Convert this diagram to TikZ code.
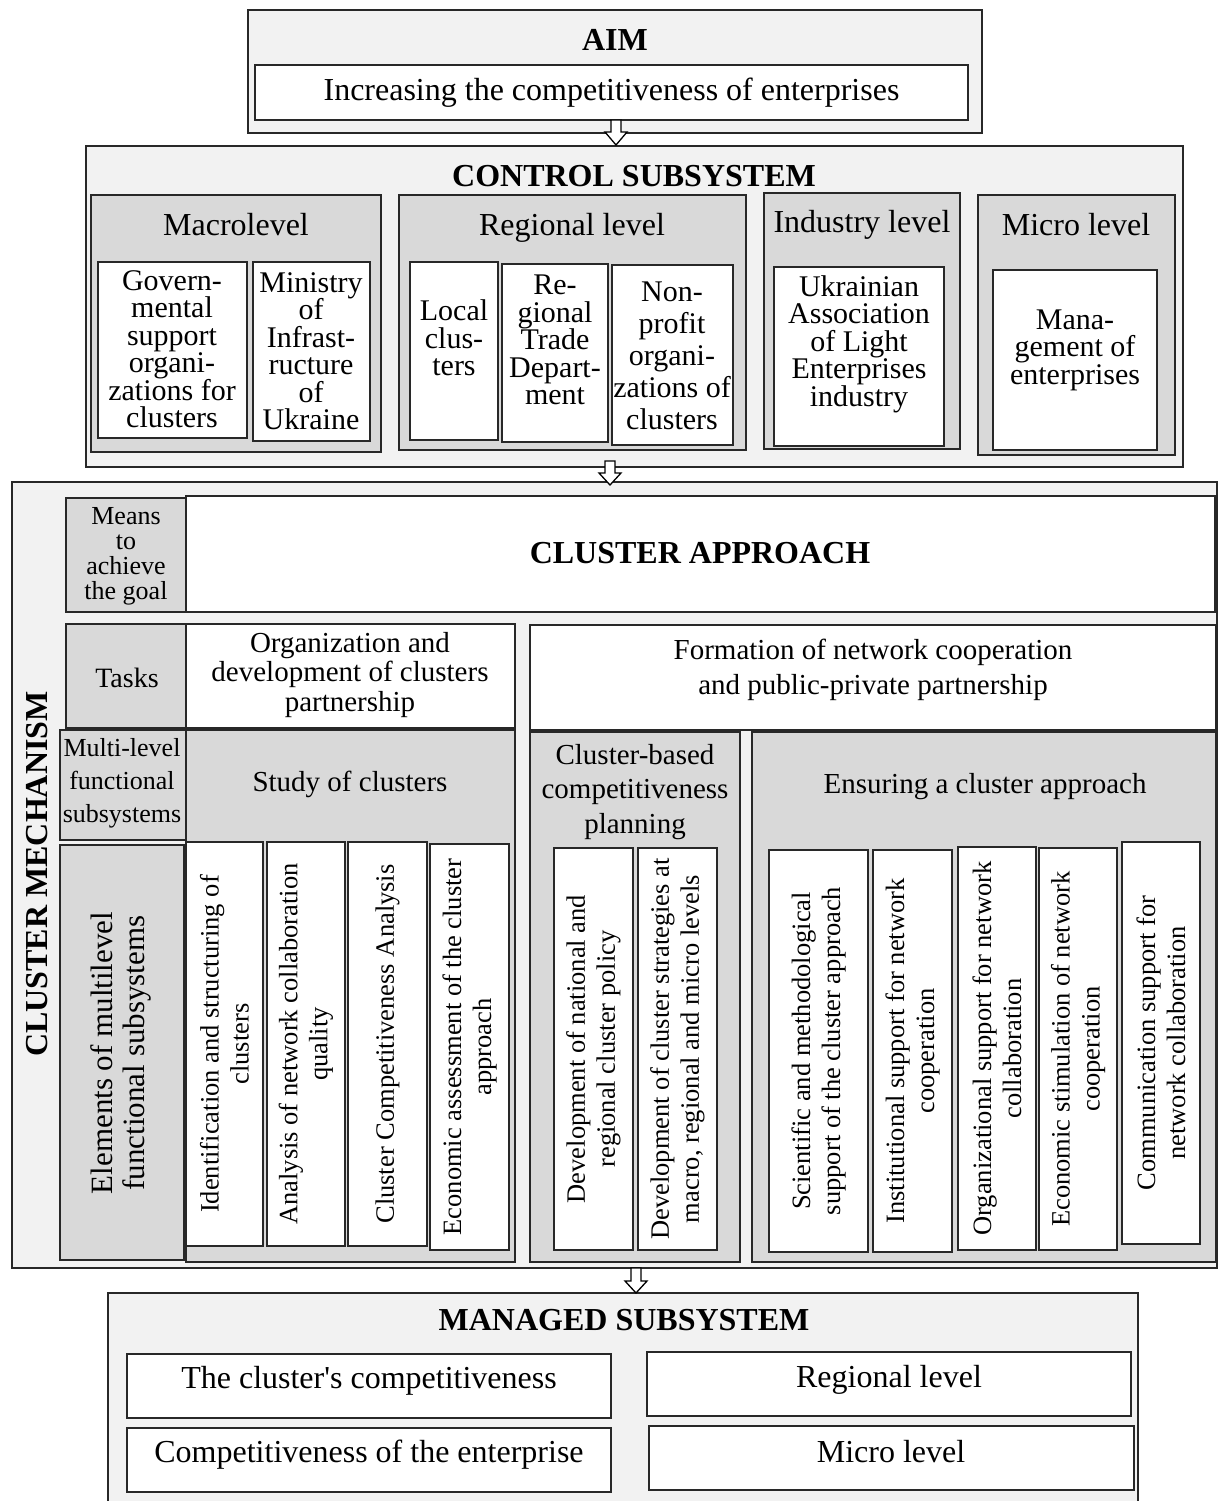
\documentclass[tikz,border=0pt]{standalone}
\usepackage{fontspec}
\setmainfont{Liberation Serif}
\definecolor{lightg}{RGB}{242,242,242}
\definecolor{midg}{RGB}{217,217,217}
\definecolor{edge}{RGB}{40,40,40}
\newcommand\mkbox[6]{\node[#6, minimum width={#4-#2}, minimum height={#5-#3}, anchor=north west] (#1) at (#2,#3) {};}
\newcommand\darr[4]{\draw[harrow] ({#1-5},#2) -- ({#1-5},#3) -- ({#1-11},#3) -- (#1,#4) -- ({#1+11},#3) -- ({#1+5},#3) -- ({#1+5},#2) -- cycle;}
\newcommand\fs[2]{\fontsize{#1}{#2}\selectfont\lineskiplimit=-100pt\relax}
\begin{document}
\begin{tikzpicture}[x=1pt,y=-1pt,
  panel/.style={draw=edge, line width=1.3pt, fill=lightg, inner sep=0pt, outer sep=0pt},
  grp/.style={panel, fill=midg},
  wbox/.style={panel, fill=white},
  harrow/.style={draw=black, line width=1.3pt, fill=white, line join=miter},
  ttl/.style={font=\fs{32}{36}\bfseries, inner sep=0pt},
  big/.style={font=\fs{32}{36}, inner sep=0pt, align=center},
  sm/.style={font=\fs{30}{27.5}, inner sep=0pt, align=center},
  smw/.style={font=\fs{30}{32}, inner sep=0pt, align=center},
  mid/.style={font=\fs{29}{29.5}, inner sep=0pt, align=center},
  midw/.style={font=\fs{29}{34.5}, inner sep=0pt, align=center},
  lab/.style={font=\fs{26}{25}, inner sep=0pt, align=center},
  labw/.style={font=\fs{26}{33}, inner sep=0pt, align=center},
  vt/.style={font=\fs{26.5}{30}, inner sep=0pt, align=center, rotate=90},
  vtb/.style={font=\fs{31}{32}, inner sep=0pt, align=center, rotate=90},
]
\useasboundingbox (0,0) rectangle (1218,1501);
\clip (0,0) rectangle (1218,1501);

% ---------- AIM ----------
\mkbox{aim}{248}{10}{982}{133}{panel}
\node[ttl] (aimt) at (615,40) {AIM};
\mkbox{aimin}{255}{65}{968}{120}{wbox}
\node[big] (aimint) at (aimin) {Increasing the competitiveness of enterprises};

% ---------- CONTROL SUBSYSTEM ----------
\mkbox{ctrl}{86}{146}{1183}{467}{panel}
\node[ttl] (ctrlt) at (634,176) {CONTROL SUBSYSTEM};

\mkbox{macro}{91}{195}{381}{452}{grp}
\node[big] (macrot) at (236,225) {Macrolevel};
\mkbox{gov}{98}{262}{247}{438}{wbox}
\node[sm] (govt) at (172,349) {Govern-\\mental\\support\\organi-\\zations for\\clusters};
\mkbox{mini}{253}{262}{370}{441}{wbox}
\node[sm] (minit) at (311,351) {Ministry\\of\\Infrast-\\ructure\\of\\Ukraine};

\mkbox{reg}{399}{195}{746}{450}{grp}
\node[big] (regt) at (572,228) {Regional level};
\mkbox{loc}{410}{262}{498}{440}{wbox}
\node[sm] (loct) at (454,338) {Local\\clus-\\ters};
\mkbox{rtd}{502}{264}{608}{442}{wbox}
\node[sm] (rtdt) at (555,340) {Re-\\gional\\Trade\\Depart-\\ment};
\mkbox{npo}{612}{265}{733}{445}{wbox}
\node[smw] (npot) at (672,356) {Non-\\profit\\organi-\\zations of\\clusters};

\mkbox{ind}{764}{193}{960}{449}{grp}
\node[big] (indt) at (862,225) {Industry level};
\mkbox{ukr}{774}{267}{944}{446}{wbox}
\node[sm] (ukrt) at (859,344) {Ukrainian\\Association\\of Light\\Enterprises\\industry};

\mkbox{mic}{978}{195}{1175}{455}{grp}
\node[big] (mict) at (1076,225) {Micro level};
\mkbox{man}{993}{270}{1157}{450}{wbox}
\node[sm] (mant) at (1075,350) {Mana-\\gement of\\enterprises};

% ---------- CLUSTER MECHANISM ----------
\mkbox{mech}{12}{482}{1217}{1268}{panel}
\node[ttl, rotate=90] (mecht) at (37,874) {CLUSTER MECHANISM};

\mkbox{means}{66}{498}{186}{612}{grp}
\node[lab] (meanst) at (126,556) {Means\\to\\achieve\\the goal};
\mkbox{appr}{186}{496}{1215}{612}{wbox}
\node[ttl] (apprt) at (700,553) {CLUSTER APPROACH};

\mkbox{tasks}{66}{624}{186}{728}{grp}
\node[font=\fs{28}{30}, inner sep=0pt] (taskst) at (127,678) {Tasks};
\mkbox{org}{186}{624}{515}{728}{wbox}
\node[mid] (orgt) at (350,675) {Organization and\\development of clusters\\partnership};
\mkbox{form}{530}{625}{1216}{730}{wbox}
\node[midw] (formt) at (873,670) {Formation of network cooperation\\and public-private partnership};

\mkbox{study}{186}{730}{515}{1262}{grp}
\node[mid] (studyt) at (350,784) {Study of clusters};
\mkbox{multi}{60}{730}{186}{840}{grp}
\node[labw] (multit) at (122,783) {Multi-level\\functional\\subsystems};
\mkbox{elem}{60}{845}{184}{1260}{grp}
\node[vtb] (elemt) at (121,1053) {Elements of multilevel\\functional subsystems};

\mkbox{sa}{186}{842}{263}{1246}{wbox}
\node[vt] (sat) at (sa) {Identification and structuring of\\clusters};
\mkbox{sb}{267}{842}{345}{1246}{wbox}
\node[vt] (sbt) at (sb) {Analysis of network collaboration\\quality};
\mkbox{sc}{348}{842}{427}{1246}{wbox}
\node[vt] (sct) at (sc) {Cluster Competitiveness Analysis};
\mkbox{sd}{430}{844}{509}{1250}{wbox}
\node[vt] (sdt) at (sd) {Economic assessment of the cluster\\approach};

\mkbox{cbp}{530}{732}{740}{1262}{grp}
\node[midw] (cbpt) at (635,792) {Cluster-based\\competitiveness\\planning};
\mkbox{pa}{554}{848}{633}{1250}{wbox}
\node[vt] (pat) at (pa) {Development of national and\\regional cluster policy};
\mkbox{pb}{638}{848}{717}{1250}{wbox}
\node[vt] (pbt) at (pb) {Development of cluster strategies at\\macro, regional and micro levels};

\mkbox{ens}{752}{732}{1216}{1262}{grp}
\node[mid] (enst) at (985,787) {Ensuring a cluster approach};
\mkbox{ea}{769}{850}{868}{1252}{wbox}
\node[vt] (eat) at (ea) {Scientific and methodological\\support of the cluster approach};
\mkbox{eb}{873}{850}{952}{1252}{wbox}
\node[vt] (ebt) at (eb) {Institutional support for network\\cooperation};
\mkbox{ec}{958}{847}{1036}{1250}{wbox}
\node[vt] (ect) at (ec) {Organizational support for network\\collaboration};
\mkbox{ed}{1039}{848}{1117}{1250}{wbox}
\node[vt] (edt) at (ed) {Economic stimulation of network\\cooperation};
\mkbox{ee}{1122}{842}{1200}{1244}{wbox}
\node[vt] (eet) at (ee) {Communication support for\\network collaboration};

% ---------- MANAGED SUBSYSTEM ----------
\mkbox{mngd}{108}{1293}{1138}{1512}{panel}
\node[ttl] (mngdt) at (624,1320) {MANAGED SUBSYSTEM};
\mkbox{ma}{127}{1354}{611}{1418}{wbox}
\node[big] (mat) at (369,1381) {The cluster\textquotesingle s competitiveness};
\mkbox{mb}{647}{1352}{1131}{1416}{wbox}
\node[big] (mbt) at (889,1380) {Regional level};
\mkbox{mc}{127}{1428}{611}{1492}{wbox}
\node[big] (mct) at (369,1455) {Competitiveness of the enterprise};
\mkbox{md}{649}{1426}{1134}{1490}{wbox}
\node[big] (mdt) at (891,1452) {Micro level};

% ---------- block arrows ----------
\darr{616}{120}{132}{145}
\darr{610}{461}{473}{485}
\darr{636}{1268}{1281}{1293}
\end{tikzpicture}
\end{document}
